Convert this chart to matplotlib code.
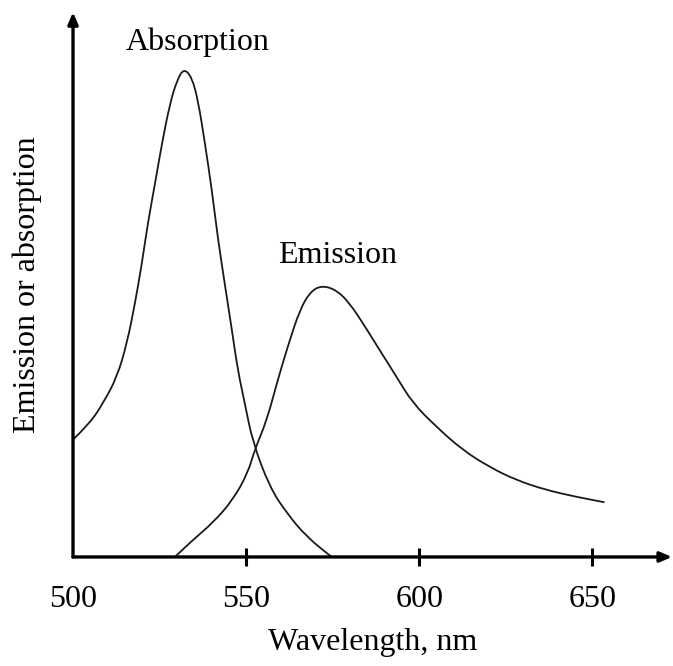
import matplotlib.pyplot as plt
from matplotlib.patches import PathPatch
from matplotlib.path import Path

# wavelengths (nm) and relative intensity
absorption_wl = [500.0, 504.9, 508.7, 512.7, 515.6, 517.9, 519.9, 521.6,
                 523.7, 525.7, 528.0, 530.0, 532.0, 534.3, 536.1, 538.1,
                 540.1, 541.8, 543.8, 545.9, 547.6, 549.6, 551.9, 556.8,
                 561.7, 567.5, 574.7]
absorption_y = [24.0, 27.4, 31.5, 36.8, 43.8, 51.9, 60.1, 68.3,
                76.5, 84.7, 92.8, 97.5, 100.0, 98.2, 93.5, 84.7,
                75.1, 65.4, 56.0, 46.4, 38.2, 31.5, 23.5, 14.3,
                9.0, 4.1, 0.0]

emission_wl = [529.4, 534.6, 540.4, 546.2, 550.5, 552.5, 556.0, 559.1,
               562.6, 565.5, 568.4, 571.8, 576.2, 579.9, 583.7, 588.6,
               593.5, 598.1, 605.0, 612.5, 620.3, 628.1, 636.7, 645.4,
               653.5]
emission_y = [0.0, 3.5, 7.0, 11.7, 17.2, 22.0, 28.0, 36.2,
              44.4, 50.5, 54.2, 55.6, 54.6, 51.9, 47.9, 42.3,
              36.8, 31.5, 26.6, 21.9, 18.4, 15.7, 13.7, 12.3,
              11.2]

tick_values = [500, 550, 600, 650]


def smooth_curve(xs, ys) -> Path:
    """
    Quadratic bezier path through the midpoints, read points as controls.
    """

    verts = [(xs[0], ys[0])]
    codes = [Path.MOVETO]
    for i in range(1, len(xs) - 1):
        mid = ((xs[i] + xs[i + 1]) / 2, (ys[i] + ys[i + 1]) / 2)
        verts += [(xs[i], ys[i]), mid]
        codes += [Path.CURVE3, Path.CURVE3]
    verts.append((xs[-1], ys[-1]))
    codes.append(Path.LINETO)
    return Path(verts, codes)


plt.rcParams["font.family"] = ["Liberation Serif", "DejaVu Serif"]

fig = plt.figure(figsize=(6.73, 6.66), dpi=100)
ax = fig.add_axes([0.1085, 0.1637, 0.890, 0.818])

line_color = "#1a1a1a"
for xs, ys in [(absorption_wl, absorption_y), (emission_wl, emission_y)]:
    ax.add_patch(PathPatch(smooth_curve(xs, ys), fill=False,
                           edgecolor=line_color, linewidth=1.3))

ax.set_xlim(500, 673)
ax.set_ylim(0, 111.5)

for side in ["top", "right", "left", "bottom"]:
    ax.spines[side].set_visible(False)

# axes drawn as arrows
arrow_style = dict(arrowstyle="-|>,head_length=0.7,head_width=0.3",
                   color="black", linewidth=2.4, shrinkA=0, shrinkB=0)
ax.annotate("", xy=(1.0, 0.0), xytext=(0.0, 0.0), xycoords="axes fraction",
            arrowprops=arrow_style, annotation_clip=False)
ax.annotate("", xy=(0.0, 1.0), xytext=(0.0, 0.0), xycoords="axes fraction",
            arrowprops=arrow_style, annotation_clip=False)

ax.set_xticks(tick_values)
ax.set_xticklabels([str(v) for v in tick_values], fontsize=23)
ax.tick_params(axis="x", direction="inout", length=13, width=2.2, pad=14)
ax.xaxis.get_major_ticks()[0].tick1line.set_visible(False)
ax.set_yticks([])

ax.set_xlabel("Wavelength, nm", fontsize=23, labelpad=10)
ax.set_ylabel("Emission or absorption", fontsize=23, labelpad=22)

ax.text(536.1, 105.3, "Absorption", fontsize=23, ha="center", va="center")
ax.text(576.4, 61.8, "Emission", fontsize=23, ha="center", va="center")

plt.savefig("out.png", dpi=100)
